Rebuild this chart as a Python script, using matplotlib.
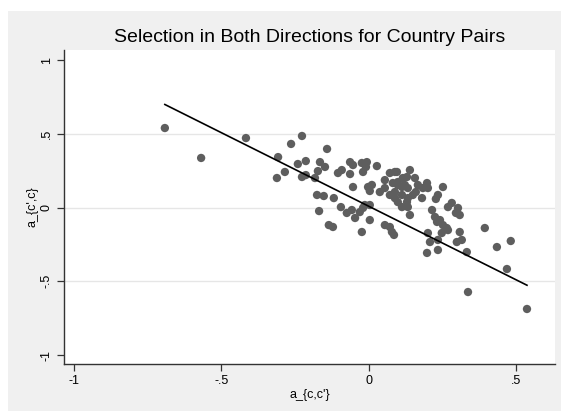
import matplotlib
matplotlib.use("Agg")
import matplotlib.pyplot as plt
from matplotlib.patches import Rectangle
import numpy as np

plt.rcParams['font.family'] = ['Liberation Sans', 'DejaVu Sans']

title = "Selection in Both Directions for Country Pairs"
xlabel = "a_{c,c'}"
ylabel = "a_{c',c}"
tick_vals = [-1, -0.5, 0, 0.5, 1]
xtick_vals = [-1, -0.5, 0, 0.5]
xtick_labels = ["-1", "-.5", "0", ".5"]
ytick_labels = ["-1", "-.5", "0", ".5", "1"]
grid_vals = [-0.5, 0, 0.5]

a_cc2 = [  # x: a_{c,c'}
    -0.692, -0.569, -0.417, -0.227, -0.264, -0.142, -0.308, -0.241, -0.214, -0.166,
    -0.149, -0.173, -0.285, -0.312, -0.227, -0.214, -0.183, -0.105, -0.176, -0.153,
    -0.119, -0.169, -0.136, -0.122, -0.095, -0.064, -0.054, -0.024, -0.007, -0.010,
    -0.020, 0.027, -0.092, -0.064, -0.054, -0.003, 0.010, 0.003, 0.037, 0.054,
    0.054, 0.071, 0.088, 0.081, 0.098, 0.071, 0.088, 0.098, 0.112, -0.075,
    -0.058, -0.047, -0.031, -0.020, -0.014, 0.003, 0.003, -0.024, 0.054, 0.071,
    0.078, 0.085, 0.112, 0.139, 0.095, 0.115, 0.129, 0.156, 0.166, 0.197,
    0.183, 0.098, 0.122, 0.132, 0.088, 0.112, 0.132, 0.149, 0.180, 0.200,
    0.251, 0.234, 0.227, 0.132, 0.139, 0.214, 0.224, 0.231, 0.241, 0.251,
    0.264, 0.268, 0.281, 0.302, 0.308, 0.295, 0.200, 0.207, 0.234, 0.247,
    0.268, 0.308, 0.298, 0.315, 0.197, 0.234, 0.332, 0.159, 0.129, 0.393,
    0.481, 0.434, 0.468, 0.336, 0.536,
]
a_c2c = [  # y: a_{c',c}
    0.539, 0.336, 0.471, 0.485, 0.431, 0.397, 0.342, 0.295, 0.315, 0.308,
    0.275, 0.247, 0.241, 0.200, 0.207, 0.220, 0.200, 0.234, 0.085, 0.078,
    0.064, -0.024, -0.119, -0.132, 0.003, 0.308, 0.288, 0.302, 0.308, 0.275,
    0.241, 0.281, 0.254, 0.227, 0.139, 0.139, 0.153, 0.112, 0.105, 0.132,
    0.186, 0.234, 0.241, 0.166, 0.173, 0.085, 0.064, 0.037, 0.003, -0.037,
    -0.017, -0.071, -0.031, -0.003, 0.017, 0.017, -0.085, -0.166, -0.119, -0.132,
    -0.166, -0.186, 0.139, 0.254, 0.241, 0.200, 0.207, 0.200, 0.153, 0.166,
    0.132, 0.153, 0.153, 0.132, 0.105, 0.085, 0.064, 0.085, 0.064, 0.132,
    0.139, 0.085, 0.058, 0.003, -0.051, -0.017, -0.064, -0.098, -0.085, -0.119,
    -0.139, 0.003, 0.031, -0.003, -0.051, -0.037, -0.173, -0.234, -0.220, -0.173,
    -0.153, -0.166, -0.234, -0.220, -0.308, -0.288, -0.302, 0.105, 0.037, -0.139,
    -0.227, -0.268, -0.417, -0.573, -0.688,
]
fit_intercept = 0.008
fit_slope = -0.998

W, H = 561, 411
fig = plt.figure(figsize=(W / 100, H / 100), dpi=100)
fig.patch.set_facecolor('white')
fig.patches.append(Rectangle((8 / W, 0), 1 - 8 / W, 1 - 11 / H,
                             transform=fig.transFigure, facecolor='#f0f0f0',
                             edgecolor='none', zorder=-10))

ax = fig.add_axes([64 / W, 1 - 364 / H, (555 - 64) / W, (364 - 50) / H])
ax.set_facecolor('white')

x = np.array(a_cc2)
y = np.array(a_c2c)
ax.scatter(x, y, s=36, color='#5e5e5e', edgecolors='none', zorder=3)

xl = np.array([x.min(), x.max()])
ax.plot(xl, fit_intercept + fit_slope * xl, color='black', lw=1.2, zorder=4)

for g in grid_vals:
    ax.axhline(g, color='#e6e6e6', lw=1.0, zorder=1)

ax.set_xlim(-1.034, 0.631)
ax.set_ylim(-1.061, 1.068)

ax.set_xticks(xtick_vals)
ax.set_xticklabels(xtick_labels)
ax.set_yticks(tick_vals)
ax.set_yticklabels(ytick_labels, rotation=90, va='center')

for s in ['top', 'right']:
    ax.spines[s].set_visible(False)
for s in ['left', 'bottom']:
    ax.spines[s].set_color('#333333')
    ax.spines[s].set_linewidth(1.0)

ax.tick_params(axis='both', direction='out', length=5, width=0.9,
               color='#333333', labelsize=9, labelcolor='black', pad=3)

ax.set_xlabel(xlabel, fontsize=9, labelpad=1)
ax.set_ylabel(ylabel, fontsize=9, labelpad=2)

fig.text((64 + 555) / 2 / W, 1 - 37 / H, title, ha='center', va='center',
         fontsize=14, color='black')

fig.savefig('out.png', dpi=100)
